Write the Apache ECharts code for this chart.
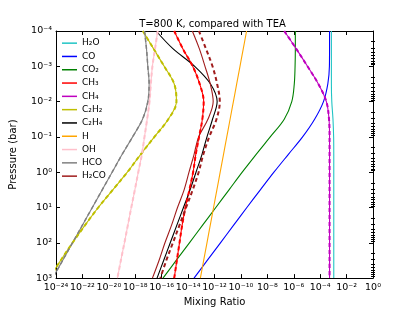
<!DOCTYPE html>
<html><head><meta charset="utf-8">
<script src="https://cdn.jsdelivr.net/npm/echarts@6/dist/echarts.min.js"></script>
<style>html,body{margin:0;padding:0;background:#fff}#c{width:415px;height:312px}</style>
</head><body><div id="c"></div>
<script>
// log10 of pressure levels (bar)
const logP = [-4,-3.5,-3,-2.5,-2,-1.5,-1,-0.5,0,0.5,1,1.5,2,2.5,3];
// log10 mixing ratios, one per pressure level
const logH2O  = [-3.15,-3.15,-3.15,-3.15,-3.12,-3.03,-2.98,-2.97,-2.97,-2.97,-2.97,-2.97,-2.97,-2.97,-2.97];
const logCO   = [-3.29,-3.29,-3.3,-3.42,-3.75,-4.42,-5.33,-6.42,-7.5,-8.53,-9.55,-10.55,-11.55,-12.55,-13.55];
const logCO2  = [-5.88,-5.88,-5.9,-5.96,-6.15,-6.72,-7.78,-8.86,-9.9,-10.9,-11.9,-12.9,-13.9,-14.9,-15.9];
const logCH3  = [-15.05,-14.4,-13.65,-13.12,-12.82,-12.92,-13.17,-13.42,-13.62,-13.9,-14.2,-14.45,-14.65,-14.85,-15.05];
const logCH4  = [-6.72,-5.82,-4.96,-4.14,-3.53,-3.33,-3.29,-3.29,-3.29,-3.29,-3.29,-3.29,-3.29,-3.29,-3.29];
const logC2H2 = [-17.42,-16.62,-15.81,-15.05,-14.88,-15.5,-16.55,-17.6,-18.6,-19.7,-20.8,-21.8,-22.75,-23.65,-24.5];
const logC2H4 = [-16.42,-15.15,-13.5,-12.3,-11.8,-12.15,-12.57,-12.95,-13.4,-13.85,-14.35,-14.85,-15.35,-15.85,-16.35];
const logH    = [-9.57,-9.82,-10.07,-10.32,-10.57,-10.82,-11.07,-11.32,-11.57,-11.82,-12.07,-12.32,-12.57,-12.82,-13.07];
const logOH   = [-16.3,-16.5,-16.7,-16.82,-16.92,-17.1,-17.3,-17.5,-17.77,-18.03,-18.3,-18.56,-18.82,-19.09,-19.35];
const logHCO  = [-17.3,-17.15,-17.05,-16.95,-17.05,-17.45,-18.2,-19.0,-19.75,-20.5,-21.25,-22.0,-22.75,-23.5,-24.25];
const logH2CO = [-13.68,-13.15,-12.72,-12.32,-12.1,-12.5,-13.2,-13.55,-13.93,-14.3,-14.8,-15.25,-15.75,-16.2,-16.7];
// TEA comparison values for H2CO (the other visible TEA curves coincide with the model)
const logH2CO_TEA = [-13.18,-12.65,-12.15,-11.8,-11.6,-11.85,-12.4,-12.85,-13.2,-13.65,-14.15,-14.65,-15.15,-15.65,-16.1];
// axis tick exponents
const xTickExp = [-24,-22,-20,-18,-16,-14,-12,-10,-8,-6,-4,-2,0];
const yTickExp = [-4,-3,-2,-1,0,1,2,3];

const species = [
  {name:'H₂O',  data:logH2O,  color:'#20c4c4', tea:null},
  {name:'CO',   data:logCO,   color:'#0000ff', tea:null},
  {name:'CO₂',  data:logCO2,  color:'#008000', tea:null},
  {name:'CH₃',  data:logCH3,  color:'#ff0000', tea:logCH3, tw:2},
  {name:'CH₄',  data:logCH4,  color:'#bf00bf', tea:logCH4, tw:2},
  {name:'C₂H₂', data:logC2H2, color:'#bfbf00', tea:logC2H2, tw:2},
  {name:'C₂H₄', data:logC2H4, color:'#000000', tea:null},
  {name:'H',    data:logH,    color:'#ffa500', tea:null},
  {name:'OH',   data:logOH,   color:'#ffc0cb', tea:logOH, tw:2},
  {name:'HCO',  data:logHCO,  color:'#808080', tea:logHCO, tw:1.5},
  {name:'H₂CO', data:logH2CO, color:'#a01c1c', tea:logH2CO_TEA, tw:2}
];

const supMap = {'-':'⁻','0':'⁰','1':'¹','2':'²','3':'³','4':'⁴','5':'⁵','6':'⁶','7':'⁷','8':'⁸','9':'⁹'};
function pow10Label(e){
  return '10' + String(Math.round(e)).split('').map(c=>supMap[c]).join('');
}
// minor log ticks on pressure axis (2..9 x 10^d), in exponent space
const minorY = [];
for (let d=-4; d<3; d++) for (let k=2; k<10; k++) minorY.push(d + Math.log10(k));

const FONT = 'DejaVu Sans';
const series = [];
species.forEach(s=>{
  series.push({
    name:s.name, type:'line', xAxisIndex:0, yAxisIndex:0, smooth:0.35, symbol:'none',
    data:s.data.map((v,i)=>[v, logP[i]]),
    lineStyle:{color:s.color, width:1.1}, itemStyle:{color:s.color}, z:2
  });
});
species.forEach(s=>{
  if(!s.tea) return;
  series.push({
    name:s.name+' TEA', type:'line', xAxisIndex:0, yAxisIndex:0, smooth:0.35, symbol:'none',
    data:s.tea.map((v,i)=>[v, logP[i]]),
    lineStyle:{color:s.color, width:s.tw, type:[4,3]}, itemStyle:{color:s.color}, z:3
  });
});

const chart = echarts.init(document.getElementById('c'), null, {renderer:'canvas'});
const axisLine = {show:true, onZero:false, lineStyle:{color:'#000', width:1}};
const tickMajor = {inside:true, length:4, lineStyle:{color:'#000'}};
chart.setOption({
  animation:false,
  backgroundColor:'#fff',
  textStyle:{fontFamily:FONT},
  title:{text:'T=800 K, compared with TEA', left:212.5, textAlign:'center', top:19, padding:0,
    textStyle:{fontSize:10, fontWeight:'normal', color:'#000', fontFamily:FONT}},
  legend:{
    data:species.map(s=>s.name), orient:'vertical', left:62, top:36.5, padding:0,
    icon:'rect', itemWidth:15, itemHeight:1.5, itemGap:0,
    textStyle:{fontSize:9, color:'#000', fontFamily:FONT, lineHeight:13.3}
  },
  grid:{left:52, right:42, top:31, bottom:33},
  xAxis:[
    {type:'value', position:'bottom', min:xTickExp[0], max:xTickExp[xTickExp.length-1], interval:2,
     name:'Mixing Ratio', nameLocation:'middle', nameGap:17,
     nameTextStyle:{fontSize:10, color:'#000', fontFamily:FONT},
     axisLine, axisTick:tickMajor,
     axisLabel:{formatter:pow10Label, fontSize:9.5, color:'#000', margin:4, fontFamily:FONT},
     splitLine:{show:false}},
    {type:'value', position:'top', min:xTickExp[0], max:xTickExp[xTickExp.length-1], interval:2,
     axisLine, axisTick:tickMajor, axisLabel:{show:false}, splitLine:{show:false}}
  ],
  yAxis:[
    {type:'value', position:'left', inverse:true, min:yTickExp[0], max:yTickExp[yTickExp.length-1], interval:1,
     name:'Pressure (bar)', nameLocation:'middle', nameGap:38,
     nameTextStyle:{fontSize:10, color:'#000', fontFamily:FONT},
     axisLine, axisTick:tickMajor,
     axisLabel:{formatter:pow10Label, fontSize:9.5, color:'#000', margin:4, fontFamily:FONT},
     splitLine:{show:false}},
    {type:'value', position:'right', inverse:true, min:yTickExp[0], max:yTickExp[yTickExp.length-1], interval:1,
     axisLine, axisTick:tickMajor, axisLabel:{show:false}, splitLine:{show:false}},
    {type:'value', position:'left', inverse:true, min:yTickExp[0], max:yTickExp[yTickExp.length-1],
     axisLine:{show:false}, axisTick:{inside:true, length:2, customValues:minorY, lineStyle:{color:'#000'}},
     axisLabel:{show:false}, splitLine:{show:false}},
    {type:'value', position:'right', inverse:true, min:yTickExp[0], max:yTickExp[yTickExp.length-1],
     axisLine:{show:false}, axisTick:{inside:true, length:2, customValues:minorY, lineStyle:{color:'#000'}},
     axisLabel:{show:false}, splitLine:{show:false}}
  ],
  series
});
</script></body></html>
